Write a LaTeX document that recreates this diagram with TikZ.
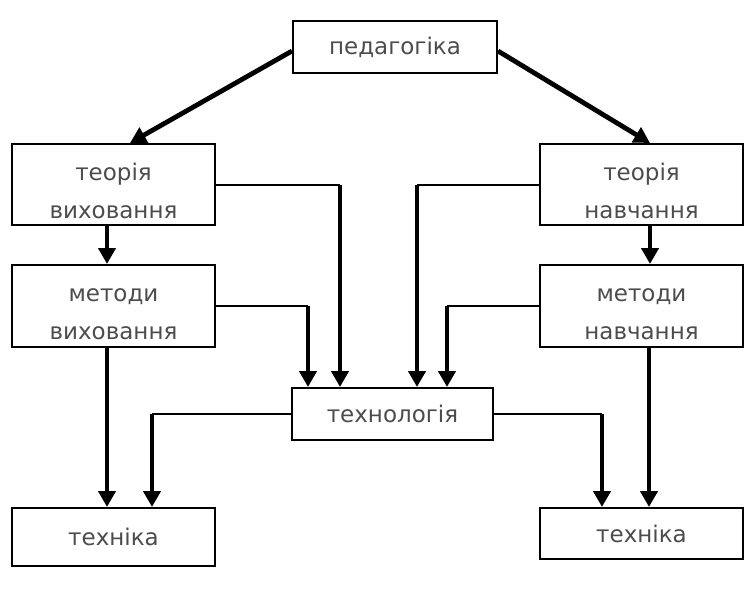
\documentclass[tikz,border=0pt]{standalone}
\usepackage{fontspec}
\setmainfont{DejaVu Sans}
\usetikzlibrary{arrows.meta, positioning}
\tikzset{block/.style={draw, line width=1pt, rectangle, inner sep=0pt, align=center, text=black!70, font=\fontsize{11.5}{19}\selectfont}}
\newcommand{\lowfirst}{\rule{0pt}{15pt}}

\begin{document}
\begin{tikzpicture}[x=0.5pt, y=-0.5pt, >={Triangle[length=8pt,width=8.5pt]}, link/.style={line width=1pt}, main/.style={line width=2pt, ->}]
\useasboundingbox (0,0) rectangle (752,594);
% boxes
\node[block, minimum width=102pt, minimum height=26pt] (ped) at (395,47) {педагогіка};
\node[block, minimum width=101.5pt, minimum height=40.5pt] (tv) at (113.5,184.5) {\lowfirst теорія\\виховання};
\node[block, minimum width=101.5pt, minimum height=40.5pt] (tn) at (641.5,184.5) {\lowfirst теорія\\навчання};
\node[block, minimum width=101.5pt, minimum height=41pt] (mv) at (113.5,306) {\lowfirst методи\\виховання};
\node[block, minimum width=101.5pt, minimum height=41pt] (mn) at (641.5,306) {\lowfirst методи\\навчання};
\node[block, minimum width=100.5pt, minimum height=26pt] (tech) at (392.5,414) {технологія};
\node[block, minimum width=101.5pt, minimum height=29pt] (tkl) at (113.5,537) {техніка};
\node[block, minimum width=101.5pt, minimum height=25.5pt] (tkr) at (641.5,533.5) {техніка};
% bends of the thin links
\coordinate (c1) at (340,184.5);
\coordinate (c2) at (308,306);
\coordinate (c3) at (417,184.5);
\coordinate (c4) at (447,306);
\coordinate (c5) at (152,414);
\coordinate (c6) at (602,414);
% main arrows
\draw[main, line width=2.4pt] ([yshift=-2pt]ped.west) -- (tv.north -| 130,0);
\draw[main, line width=2.4pt] ([yshift=-2pt]ped.east) -- (tn.north -| 650,0);
\draw[main] (tv.south -| 107,0) -- (mv.north -| 107,0);
\draw[main] (tn.south -| 650,0) -- (mn.north -| 650,0);
\draw[main] (mv.south -| 107,0) -- (tkl.north -| 107,0);
\draw[main] (mn.south -| 649,0) -- (tkr.north -| 649,0);
% links to and from technology
\draw[link] (tv.east) -- (c1);
\draw[main] (c1) -- (c1 |- tech.north);
\draw[link] (mv.east) -- (c2);
\draw[main] (c2) -- (c2 |- tech.north);
\draw[link] (tn.west) -- (c3);
\draw[main] (c3) -- (c3 |- tech.north);
\draw[link] (mn.west) -- (c4);
\draw[main] (c4) -- (c4 |- tech.north);
\draw[link] (tech.west) -- (c5);
\draw[main] (c5) -- (c5 |- tkl.north);
\draw[link] (tech.east) -- (c6);
\draw[main] (c6) -- (c6 |- tkr.north);
\end{tikzpicture}
\end{document}
